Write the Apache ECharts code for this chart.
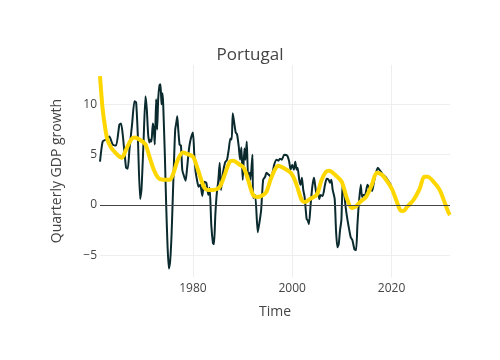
<!DOCTYPE html>
<html>
<head>
<meta charset="utf-8">
<script src="https://cdn.jsdelivr.net/npm/echarts@6/dist/echarts.min.js"></script>
<style>html,body{margin:0;padding:0;background:#fff}#c{width:500px;height:360px}</style>
</head>
<body>
<div id="c"></div>
<script>
// Actual quarterly GDP growth (time in decimal years)
const actualTime = [1961.28,1961.82,1962.49,1963.16,1963.84,1964.51,1965.19,1965.52,1965.86,1966.53,1966.87,1967.21,1967.74,1968.22,1968.55,1968.89,1969.36,1969.63,1970.03,1970.44,1970.71,1970.98,1971.25,1971.45,1971.65,1971.92,1972.12,1972.32,1972.59,1972.79,1973.00,1973.27,1973.47,1973.67,1973.87,1974.01,1974.34,1974.61,1974.88,1975.15,1975.42,1975.69,1975.96,1976.23,1976.43,1976.63,1976.84,1977.04,1977.31,1977.58,1977.85,1978.11,1978.52,1978.79,1979.19,1979.53,1980.00,1980.27,1980.54,1980.81,1981.14,1981.48,1981.89,1982.29,1982.69,1983.10,1983.37,1983.70,1984.04,1984.24,1984.51,1984.78,1985.12,1985.39,1985.66,1986.06,1986.46,1986.87,1987.21,1987.54,1987.81,1988.01,1988.22,1988.62,1988.89,1989.23,1989.49,1989.76,1990.03,1990.37,1990.57,1990.84,1991.11,1991.45,1991.58,1991.99,1992.12,1992.53,1993.06,1993.47,1993.74,1994.14,1994.55,1994.81,1995.29,1995.69,1996.09,1996.36,1996.84,1997.24,1997.51,1997.91,1998.38,1998.99,1999.39,1999.66,2000.00,2000.34,2000.61,2000.88,2001.08,2001.41,2001.68,2001.95,2002.22,2002.49,2002.90,2003.10,2003.37,2003.70,2004.04,2004.38,2004.58,2004.92,2005.19,2005.45,2005.72,2006.13,2006.60,2006.94,2007.34,2007.61,2007.88,2008.15,2008.55,2008.82,2009.09,2009.36,2009.63,2009.90,2010.17,2010.44,2010.71,2010.98,2011.31,2011.78,2012.12,2012.53,2012.86,2013.13,2013.40,2013.80,2014.07,2014.34,2014.68,2015.15,2015.49,2015.69,2016.09,2016.43,2016.77,2017.24,2017.71,2018.25,2018.79,2019.33,2019.87];
const actualGrowth = [4.3,6.3,6.5,6.8,6.0,5.9,8.0,8.1,7.0,3.7,3.6,5.5,8.0,10.3,10.2,7.0,0.6,1.5,6.0,10.8,9.5,7.0,6.2,6.5,6.3,8.1,7.5,6.0,10.5,7.5,10.5,11.9,12.0,10.0,11.1,10.0,5.0,0.0,-4.0,-6.3,-5.5,-3.0,1.0,5.0,7.5,8.1,8.8,7.5,6.0,5.9,3.5,3.0,2.4,3.5,5.5,6.5,7.2,5.0,3.3,2.5,1.8,2.0,0.9,2.3,2.2,1.0,1.7,-2.0,-3.8,-3.9,-1.0,1.0,2.5,4.2,1.5,3.2,4.2,4.5,5.5,6.6,6.5,9.1,8.5,7.2,7.0,5.8,4.5,5.7,2.5,5.6,4.5,6.3,3.0,3.2,2.5,5.0,0.7,1.0,-2.7,-1.5,-0.5,2.5,2.8,3.2,3.0,2.8,3.3,4.0,4.5,4.4,4.6,4.5,5.0,4.9,4.3,3.5,4.0,3.5,4.3,3.5,3.7,2.5,2.0,2.7,1.5,0.8,-1.4,-1.5,-1.9,0.0,1.8,2.7,2.1,1.0,1.3,0.6,1.0,0.9,2.0,2.6,2.5,2.2,2.5,1.5,0.6,-2.5,-4.2,-3.9,-2.5,-1.5,2.3,1.3,0.0,-1.0,-2.0,-3.2,-3.5,-4.4,-4.5,-2.0,0.0,2.0,0.8,1.0,1.0,2.0,1.7,1.6,1.4,2.2,3.0,3.7,3.4,3.0,2.8,2.4,2.0];

// Smooth trend / forecast
const trendTime = [1961.28,1961.55,1961.82,1962.22,1962.76,1963.50,1964.17,1965.19,1965.66,1966.53,1967.54,1968.22,1969.23,1970.44,1971.11,1972.12,1973.00,1973.94,1975.29,1975.96,1976.97,1977.98,1978.65,1980.00,1981.01,1982.22,1983.03,1984.04,1985.39,1986.40,1987.41,1988.08,1989.43,1990.24,1991.11,1992.12,1993.13,1994.14,1994.81,1995.62,1996.50,1997.17,1998.52,1999.87,2000.88,2001.89,2002.56,2003.57,2004.92,2005.93,2006.80,2007.47,2008.62,2009.97,2010.98,2011.99,2012.66,2013.67,2014.88,2016.03,2017.04,2018.05,2019.06,2020.07,2020.94,2021.75,2022.42,2023.10,2024.44,2025.66,2026.60,2027.27,2028.48,2029.70,2030.51,2031.52,2031.78];
const trendGrowth = [12.8,11.0,9.5,8.0,6.5,5.7,5.3,4.8,4.7,5.5,6.5,6.7,6.5,6.0,5.0,3.5,2.7,2.5,2.5,3.0,4.5,5.2,5.1,4.8,3.5,1.8,1.5,1.5,1.8,3.0,4.3,4.4,4.0,3.7,2.5,1.0,0.8,1.0,1.3,2.5,3.5,3.9,3.6,3.1,2.0,0.5,0.3,0.6,1.0,2.5,3.3,3.4,3.0,2.3,0.7,-0.3,-0.2,0.3,0.8,2.0,3.2,3.0,2.4,1.6,0.5,-0.5,-0.6,-0.2,0.5,1.6,2.8,2.8,2.3,1.5,0.5,-0.8,-1.0];

const xTicks = [1980, 2000, 2020];
const yTicks = [-5, 0, 5, 10];

const zip = (a, b) => a.map((t, i) => [t, b[i]]);
const font = 'Open Sans, sans-serif';

const chart = echarts.init(document.getElementById('c'), null, {renderer: 'canvas'});
chart.setOption({
  animation: false,
  backgroundColor: '#fff',
  title: {
    text: 'Portugal', left: 'center', top: 42,
    textStyle: {fontFamily: font, fontSize: 17, fontWeight: 'normal', color: '#444'}
  },
  grid: {left: 100, right: 50, top: 65, bottom: 83},
  xAxis: {
    type: 'value', min: 1961.28, max: 2031.78,
    name: 'Time', nameLocation: 'middle', nameGap: 28,
    nameTextStyle: {fontFamily: font, fontSize: 14, color: '#444'},
    axisLine: {show: false}, axisTick: {show: false, customValues: xTicks},
    axisLabel: {customValues: xTicks, formatter: v => String(v), fontFamily: font, fontSize: 12, color: '#444', margin: 6},
    splitLine: {show: true, lineStyle: {color: '#eee', width: 1}}
  },
  yAxis: {
    type: 'value', min: -7.15, max: 13.9,
    name: 'Quarterly GDP growth', nameLocation: 'middle', nameGap: 36, nameRotate: 90,
    nameTextStyle: {fontFamily: font, fontSize: 14, color: '#444'},
    axisLine: {show: false}, axisTick: {show: false, customValues: yTicks},
    axisLabel: {customValues: yTicks, formatter: v => String(v).replace('-', '\u2212'), fontFamily: font, fontSize: 12, color: '#444', margin: 3},
    splitLine: {show: true, lineStyle: {color: '#eee', width: 1}}
  },
  series: [
    {
      type: 'line', data: zip(actualTime, actualGrowth), showSymbol: false, smooth: 0.2,
      lineStyle: {color: '#0a2a2e', width: 2}, z: 3,
      markLine: {
        silent: true, symbol: 'none', label: {show: false},
        lineStyle: {color: '#444', width: 1, type: 'solid'},
        data: [{yAxis: 0}]
      }
    },
    {
      type: 'line', data: zip(trendTime, trendGrowth), showSymbol: false, smooth: 0.3,
      lineStyle: {color: '#FFD700', width: 4}, z: 4
    }
  ]
});
</script>
</body>
</html>
